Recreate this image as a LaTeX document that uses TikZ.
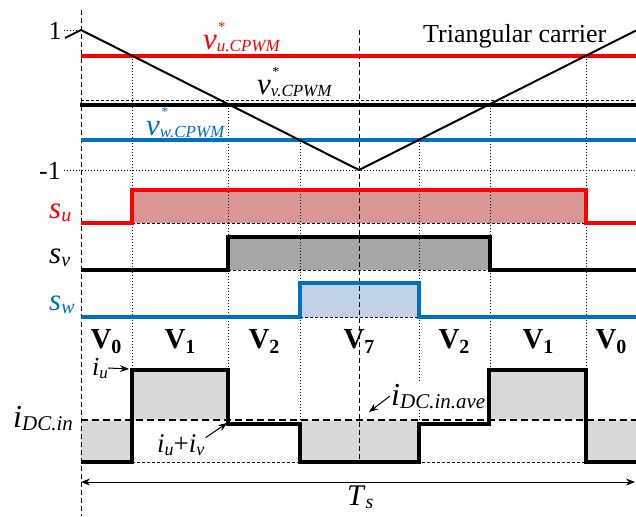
\documentclass[tikz,border=0pt]{standalone}
\usepackage{fontspec}
\setmainfont{Liberation Serif}
\usetikzlibrary{arrows.meta}
\definecolor{sufill}{RGB}{217,150,148}
\definecolor{svfill}{RGB}{166,166,166}
\definecolor{swblue}{RGB}{0,112,192}
\definecolor{swfill}{RGB}{194,209,227}
\definecolor{ifill}{RGB}{217,217,217}
\newcommand{\refv}[1]{\textit{v}\rlap{\hspace{1.5pt}\raisebox{18pt}{\fontsize{14}{14}\selectfont *}}\raisebox{-2pt}{\fontsize{17}{17}\selectfont\textit{#1}}}
\newcommand{\isub}[3]{\textit{#1}\raisebox{-3pt}{\fontsize{#3}{#3}\selectfont\textit{#2}}}
\newcommand{\vsect}[1]{\textbf{V}\raisebox{-5pt}{\fontsize{20}{20}\selectfont\textbf{#1}}}
\begin{document}
\begin{tikzpicture}[x=1pt,y=-1pt, every node/.style={inner sep=0pt},
  fsz/.style={font=\fontsize{#1}{#1}\selectfont},
  sigline/.style={line width=3.2pt},
  lowdash/.style={line width=0.8pt,dash pattern=on 3pt off 2pt},
  axisdash/.style={line width=0.8pt,dash pattern=on 5pt off 3pt},
  vguide/.style={line width=0.8pt,dash pattern=on 1pt off 2pt},
  >={Stealth[length=9pt,width=7pt]}]
  \useasboundingbox (0,0) rectangle (636,516);
  % shaded areas
  \fill[sufill] (132,190) rectangle (586,223);
  \fill[svfill] (228,237) rectangle (490,270);
  \fill[swfill] (300,283) rectangle (419,317);
  \fill[ifill] (81,420) rectangle (132,462); \fill[ifill] (132,370) rectangle (228,420);
  \fill[ifill] (300,420) rectangle (419,462); \fill[ifill] (489,370) rectangle (586,420);
  \fill[ifill] (586,420) rectangle (636,462);
  \draw[lowdash] (132,223) -- (586,223); \draw[lowdash] (228,270) -- (490,270);
  \draw[lowdash] (300,317) -- (419,317); \draw[lowdash] (132,462) -- (586,462);
  \draw[lowdash] (81,100) -- (636,100);
  % guides
  \foreach \x/\a/\b in {132/56/370, 228/105/370, 300/140/420, 419/140/420, 490/105/370, 586/56/370}
    \draw[vguide] (\x,\a) -- (\x,\b);
  \draw[vguide] (64,30) -- (81,30); \draw[vguide] (64,170) -- (636,170);
  \draw[axisdash] (81,10) -- (81,516); \draw[axisdash] (359,30) -- (359,462);
  % references and carrier
  \draw[sigline,red] (81,56) -- (636,56);
  \draw[sigline] (80,105) -- (636,105);
  \draw[sigline,swblue] (81,140) -- (636,140);
  \draw[line width=2pt] (65,38) -- (81,30) -- (359,170) -- (636,30.5);
  % switching signals
  \draw[sigline,red] (81,223) -- (132,223) -- (132,190) -- (586,190) -- (586,223) -- (636,223);
  \draw[sigline] (81,270) -- (228,270) -- (228,237) -- (490,237) -- (490,270) -- (636,270);
  \draw[sigline,swblue] (81,317) -- (300,317) -- (300,283) -- (419,283) -- (419,317) -- (636,317);
  % dc input current
  \draw[line width=2pt,dash pattern=on 7pt off 4pt] (81,420) -- (636,420);
  \draw[line width=3.5pt] (81,462) -- (132,462) -- (132,370) -- (228,370) -- (228,424) -- (300,424) -- (300,462)
    -- (419,462) -- (419,424) -- (489,424) -- (489,370) -- (586,370) -- (586,462) -- (636,462);
  % labels
  \node[fsz=26] (one) at (55,31) {1};
  \node[fsz=26] (mone) at (50,171) {-1};
  \node[fsz=26,anchor=base west] (carrier) at (423,43) {Triangular carrier};
  \node[fsz=31,red,anchor=base west] (vu) at (203,50) {\refv{u.CPWM}};
  \node[fsz=31,anchor=base west] (vv) at (257,95) {\refv{v.CPWM}};
  \node[fsz=31,swblue,anchor=base west] (vw) at (146,135) {\refv{w.CPWM}};
  \node[fsz=31,red,anchor=base west] (su) at (49,218) {\isub{s}{u}{20}};
  \node[fsz=31,anchor=base west] (sv) at (49,263) {\isub{s}{v}{20}};
  \node[fsz=31,swblue,anchor=base west] (sw) at (49,310) {\isub{s}{w}{20}};
  \foreach \x/\n/\k in {106/0/a, 180/1/b, 264/2/c, 359/7/d, 454/2/e, 538/1/f, 611/0/g}
    \node[fsz=29,anchor=base] (sec\k) at (\x,348) {\vsect{\n}};
  \node[fsz=32,anchor=base west] (idc) at (13,427) {\isub{i}{DC.in}{21}};
  \node[fsz=32,anchor=base west,fill=white,inner sep=1pt] (iave) at (390,405) {\isub{i}{DC.in.ave}{21}};
  \node[fsz=26,anchor=base west] (iu) at (92,375) {\isub{i}{u}{17}};
  \node[fsz=27,anchor=base west] (iuv) at (157,452) {\isub{i}{u}{18}+\isub{i}{v}{18}};
  \node[fsz=30,anchor=base west] (ts) at (347,505) {\isub{T}{s}{20}};
  % arrows
  \coordinate (iutip) at (129,369); \coordinate (iuvtip) at (227,423);
  \coordinate (avetip) at (369,412);
  \coordinate (tsl) at (81,482); \coordinate (tsr) at (635,482);
  \draw[->,line width=1pt] (iu.east) -- (iutip);
  \draw[->,line width=1pt] ([shift={(1,-7)}]iuv.east) -- (iuvtip);
  \draw[->,line width=1pt] (iave.west) -- (avetip);
  \draw[<->,line width=1pt] (tsl) -- (tsr);
\end{tikzpicture}
\end{document}
